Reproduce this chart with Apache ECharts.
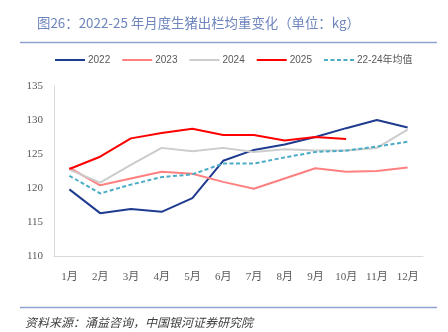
<!DOCTYPE html>
<html>
<head>
<meta charset="utf-8">
<script src="https://cdn.jsdelivr.net/npm/echarts@6/dist/echarts.min.js"></script>
<style>
  html, body { margin: 0; padding: 0; background: #fff; }
  #chart { width: 448px; height: 332px; }
</style>
</head>
<body>
<div id="chart"></div>
<script>
// Monthly average slaughter weight of live hogs (kg)
const months = ['1月', '2月', '3月', '4月', '5月', '6月', '7月', '8月', '9月', '10月', '11月', '12月'];
const y2022 = [119.8, 116.3, 116.9, 116.5, 118.5, 124.0, 125.6, 126.4, 127.5, 128.8, 130.0, 128.9];
const y2023 = [123.0, 120.4, 121.4, 122.4, 122.1, 120.9, 119.9, 121.4, 122.9, 122.4, 122.5, 123.0];
const y2024 = [122.7, 120.8, 123.4, 125.9, 125.4, 125.9, 125.3, 125.7, 125.5, 125.5, 125.9, 128.6];
const y2025 = [122.8, 124.6, 127.3, 128.1, 128.7, 127.8, 127.8, 127.0, 127.5, 127.2];
const avg2224 = [121.8, 119.2, 120.5, 121.6, 122.0, 123.6, 123.6, 124.5, 125.3, 125.5, 126.1, 126.8];
const yTicks = { min: 110, max: 135, step: 5 };

const titleText = '图26：2022-25 年月度生猪出栏均重变化（单位：kg）';
const sourceText = '资料来源：涌益咨询，中国银河证券研究院';

const serif = '"Liberation Serif", "DejaVu Serif", "Noto Sans CJK SC", serif';
const sans = '"Liberation Sans Narrow", "Liberation Sans", "Noto Sans CJK SC", sans-serif';

function lineSeries(name, data, color, dashed) {
  return {
    name: name,
    type: 'line',
    data: data,
    symbol: 'none',
    smooth: false,
    lineStyle: { color: color, width: 2, type: dashed ? [4, 2.5] : 'solid' },
    itemStyle: { color: color },
    emphasis: { disabled: true }
  };
}

const chart = echarts.init(document.getElementById('chart'));
chart.setOption({
  animation: false,
  backgroundColor: '#ffffff',
  title: [
    {
      text: titleText,
      left: 32, top: 11,
      textStyle: { fontSize: 13.4, fontWeight: 'normal', color: '#6f86bd', fontFamily: '"Noto Sans CJK SC", sans-serif' }
    },
    {
      text: sourceText,
      left: 20, top: 311,
      textStyle: { fontSize: 12, fontWeight: 'normal', fontStyle: 'italic', color: '#404040', fontFamily: '"Noto Sans CJK SC", sans-serif' }
    }
  ],
  graphic: [
    { type: 'line', shape: { x1: 20, y1: 42.5, x2: 437, y2: 42.5 }, style: { stroke: '#8ea3d0', lineWidth: 1.5 } },
    { type: 'line', shape: { x1: 20, y1: 307.5, x2: 437, y2: 307.5 }, style: { stroke: '#8ea3d0', lineWidth: 1.5 } }
  ],
  legend: {
    top: 50, left: 49,
    itemWidth: 30, itemHeight: 12,
    itemGap: 11,
    itemStyle: { opacity: 0 },
    textStyle: { fontSize: 10, color: '#595959', fontFamily: sans, padding: [0, 0, 0, -2] },
    data: ['2022', '2023', '2024', '2025', '22-24年均值']
  },
  grid: { left: 54, right: 25, top: 86, bottom: 76 },
  xAxis: {
    type: 'category',
    data: months,
    boundaryGap: true,
    axisLine: { lineStyle: { color: '#d9d9d9', width: 1 } },
    axisTick: { show: false },
    axisLabel: { color: '#595959', fontSize: 11, fontFamily: serif, margin: 16, interval: 0 },
    splitLine: { show: false }
  },
  yAxis: {
    type: 'value',
    min: yTicks.min, max: yTicks.max, interval: yTicks.step,
    axisLine: { show: true, lineStyle: { color: '#d9d9d9', width: 1 } },
    axisTick: { show: false },
    axisLabel: { color: '#595959', fontSize: 11, fontFamily: serif, margin: 11 },
    splitLine: { show: false }
  },
  series: [
    lineSeries('2022', y2022, '#1f3b8f', false),
    lineSeries('2023', y2023, '#ff8080', false),
    lineSeries('2024', y2024, '#cccccc', false),
    lineSeries('2025', y2025, '#ff0000', false),
    lineSeries('22-24年均值', avg2224, '#4bacc6', true)
  ]
});
</script>
</body>
</html>
